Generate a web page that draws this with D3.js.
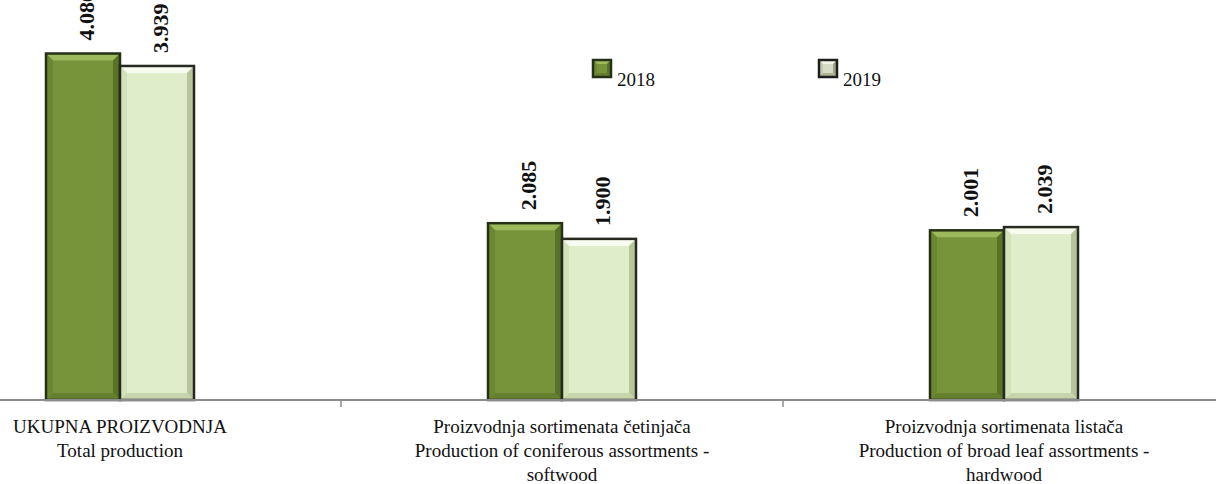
<!DOCTYPE html>
<html>
<head>
  <meta charset="utf-8">
  <title>Proizvodnja sortimenata</title>
  <script src="https://d3js.org/d3.v7.min.js"></script>
  <style>
    body { margin: 0; background: #fff; }
    svg { display: block; }
  </style>
</head>
<body>
  <script>
    var categories = ["UKUPNA PROIZVODNJA", "Proizvodnja sortimenata četinjača", "Proizvodnja sortimenata listača"];
    var categoryLines = [
      ["UKUPNA PROIZVODNJA", "Total production"],
      ["Proizvodnja sortimenata četinjača", "Production of coniferous assortments -", "softwood"],
      ["Proizvodnja sortimenata listača", "Production of broad leaf assortments -", "hardwood"]
    ];
    var series = ["2018", "2019"];
    var values2018 = [4.086, 2.085, 2.001];
    var values2019 = [3.939, 1.900, 2.039];
    var labels2018 = ["4.086", "2.085", "2.001"];
    var labels2019 = ["3.939", "1.900", "2.039"];

    var width = 1216, height = 484;
    var baseY = 400;
    var serif = "'Liberation Serif', 'Times New Roman', serif";

    var svg = d3.select("body").append("svg")
      .attr("width", width)
      .attr("height", height);

    var x0 = d3.scaleBand().domain(categories).range([-101, 1225]).padding(0);
    var groupW = 148;
    var x1 = d3.scaleBand().domain(series).range([0, groupW]).padding(0);
    var y = d3.scaleLinear().domain([0, 4.5]).range([baseY, baseY - 4.5 * 84.8]);

    var styles = {
      "2018": { main: "#77943b", top: "#9cb95b", left: "#6a8833", right: "#587328", bottom: "#64802e", edge: "#263016" },
      "2019": { main: "#e0edca", top: "#f8fcf0", left: "#d3e2b8", right: "#b7c69a", bottom: "#c7d4ac", edge: "#262a20" }
    };

    var data = [];
    categories.forEach(function(c, i){
      data.push({ cat: c, s: "2018", v: values2018[i], label: labels2018[i] });
      data.push({ cat: c, s: "2019", v: values2019[i], label: labels2019[i] });
    });

    // beveled bar drawing
    function bevelBar(g, x, yTop, w, h, st, b) {
      g.append("rect").attr("x", x).attr("y", yTop).attr("width", w).attr("height", h).attr("fill", st.main);
      var x2 = x + w, y2 = yTop + h;
      g.append("polygon").attr("points", [[x, yTop], [x2, yTop], [x2 - b, yTop + b], [x + b, yTop + b]].join(" ")).attr("fill", st.top);
      g.append("polygon").attr("points", [[x, yTop], [x + b, yTop + b], [x + b, y2 - b], [x, y2]].join(" ")).attr("fill", st.left);
      g.append("polygon").attr("points", [[x2, yTop], [x2 - b, yTop + b], [x2 - b, y2 - b], [x2, y2]].join(" ")).attr("fill", st.right);
      g.append("polygon").attr("points", [[x, y2], [x + b, y2 - b], [x2 - b, y2 - b], [x2, y2]].join(" ")).attr("fill", st.bottom);
      g.append("rect").attr("x", x).attr("y", yTop).attr("width", w).attr("height", h)
        .attr("fill", "none").attr("stroke", st.edge).attr("stroke-width", 2.5);
    }

    var bars = svg.append("g").attr("id", "bars");
    data.forEach(function(d){
      var bx = x0(d.cat) + x0.bandwidth() / 2 - groupW / 2 + x1(d.s);
      var g = bars.append("g");
      bevelBar(g, bx, y(d.v), x1.bandwidth(), baseY - y(d.v), styles[d.s], 7);
    });

    // value labels, rotated
    svg.append("g").selectAll("text")
      .data(data)
      .enter()
      .append("text")
      .attr("font-family", serif)
      .attr("font-size", 22)
      .attr("font-weight", "bold")
      .attr("fill", "#111")
      .attr("transform", function(d){
        var cx = x0(d.cat) + x0.bandwidth() / 2 - groupW / 2 + x1(d.s) + x1.bandwidth() / 2 + 3;
        return "translate(" + cx + "," + (y(d.v) - 13) + ") rotate(-90)";
      })
      .attr("dy", "0.35em")
      .attr("text-anchor", "start")
      .text(function(d){ return d.label; });

    // axis line and ticks at band boundaries
    var axis = svg.append("g").attr("id", "axis");
    axis.append("line").attr("x1", 0).attr("x2", width).attr("y1", baseY).attr("y2", baseY)
      .attr("stroke", "#8c8c8c").attr("stroke-width", 2);
    axis.selectAll("line.tick")
      .data(categories.slice(1))
      .enter()
      .append("line")
      .attr("class", "tick")
      .attr("x1", function(d){ return x0(d); })
      .attr("x2", function(d){ return x0(d); })
      .attr("y1", baseY).attr("y2", baseY + 7)
      .attr("stroke", "#8c8c8c").attr("stroke-width", 1.5);

    // category labels
    var cat = svg.append("g");
    categories.forEach(function(c, i){
      var cx = x0(c) + x0.bandwidth() / 2;
      var t = cat.append("text")
        .attr("font-family", serif)
        .attr("font-size", 19)
        .attr("fill", "#111")
        .attr("text-anchor", "middle");
      categoryLines[i].forEach(function(line, j){
        t.append("tspan")
          .attr("x", cx)
          .attr("y", 433 + j * 24)
          .text(line);
      });
    });

    // legend
    var legX = { "2018": 593, "2019": 819 };
    var legStyle = {
      "2018": styles["2018"],
      "2019": { main: "#d6dcc4", top: "#f2f4ea", left: "#c4cab0", right: "#9ea389", bottom: "#aeb396", edge: "#1e1e1e" }
    };
    var leg = svg.append("g");
    series.forEach(function(s){
      var g = leg.append("g");
      bevelBar(g, legX[s], 60, 18, 17, legStyle[s], 4);
      g.append("text")
        .attr("font-family", serif)
        .attr("font-size", 19)
        .attr("fill", "#111")
        .attr("x", legX[s] + 24).attr("y", 86).text(s);
    });
  </script>
</body>
</html>
